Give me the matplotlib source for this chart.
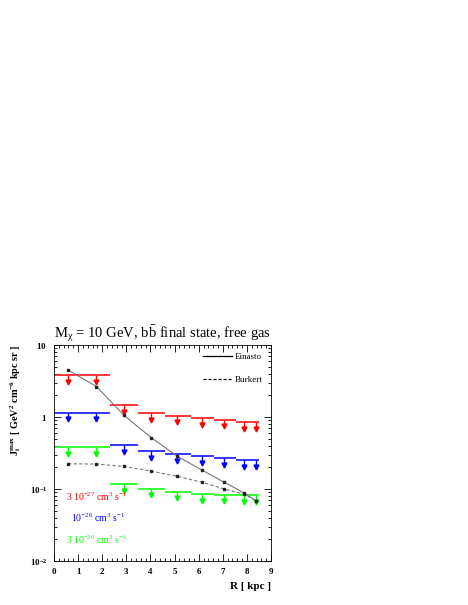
import numpy as np
import matplotlib
matplotlib.use('Agg')
import matplotlib.pyplot as plt
from matplotlib.lines import Line2D
from matplotlib.ticker import MultipleLocator, LogLocator, NullFormatter

plt.rcParams['font.family'] = ['Liberation Serif', 'DejaVu Serif']
plt.rcParams['mathtext.fontset'] = 'custom'
plt.rcParams['mathtext.rm'] = 'Liberation Serif'
plt.rcParams['mathtext.it'] = 'Liberation Serif:italic'
plt.rcParams['mathtext.bf'] = 'Liberation Serif:bold'

# ---- data ----
r_pts = [0.58, 1.76, 2.91, 4.04, 5.12, 6.15, 7.06, 7.89, 8.36]
einasto = [4.5, 2.65, 1.05, 0.514, 0.284, 0.182, 0.124, 0.088, 0.069]
burkert = [0.224, 0.222, 0.206, 0.177, 0.150, 0.124, 0.100, 0.085, 0.069]

bin_edges = [0.0, 2.33, 3.49, 4.62, 5.68, 6.65, 7.53, 8.5]
pt_bin = [0, 0, 1, 2, 3, 4, 5, 6, 6]   # bin of each arrow

lim_red = [3.80, 1.46, 1.13, 1.04, 0.96, 0.914, 0.847]     # 3e-27
lim_blue = [1.14, 0.407, 0.336, 0.302, 0.284, 0.269, 0.252]  # 1e-26
lim_green = [0.382, 0.116, 0.101, 0.091, 0.085, 0.083, 0.082]  # 3e-26

labels = [r'3 10$^{-27}$ cm$^{3}$ s$^{-1}$', r'10$^{-26}$ cm$^{3}$ s$^{-1}$',
          r'3 10$^{-26}$ cm$^{3}$ s$^{-1}$']
label_pos = [(0.5, 0.079), (0.7, 0.040), (0.5, 0.020)]
colors = ['#ff0000', '#0000ff', '#00ff00']

fig = plt.figure(figsize=(4.68, 6.05), dpi=100)
ax = fig.add_axes([0.1154, 0.0727, 0.4637, 0.3571])

# upper limit steps + arrows
for lim, col in zip([lim_red, lim_blue, lim_green], colors):
    ax.hlines(lim, bin_edges[:-1], bin_edges[1:], colors=col, lw=1.1)
    top = np.array([lim[b] for b in pt_bin])
    tip = top * 10 ** (-0.09)
    ax.vlines(r_pts, tip, top, colors=col, lw=1.0)
    ax.plot(r_pts, tip, 'v', color=col, ms=3.5, mec=col)

# profiles
ax.plot(r_pts, einasto, '-', color='#777777', lw=0.8,
        marker='s', ms=1.8, mfc='#222222', mec='#222222')
ax.plot(r_pts, burkert, '--', color='#777777', lw=0.8, dashes=(3, 2),
        marker='s', ms=1.8, mfc='#222222', mec='#222222')

for txt, (xx, yy), col in zip(labels, label_pos, colors):
    ax.text(xx, yy, txt, color=col, fontsize=7, va='center', ha='left')

handles = [Line2D([], [], color='black', lw=0.9, ls='-'),
           Line2D([], [], color='black', lw=0.9, ls='--', dashes=(2.5, 1.5))]
ax.legend(handles, ['Einasto', 'Burkert'], loc='upper right', frameon=False,
          fontsize=6.5, handlelength=3.2, handletextpad=0.3, labelspacing=1.6,
          borderaxespad=0.5)

ax.set_yscale('log')
ax.set_xlim(0, 9)
ax.set_ylim(0.01, 10)

ax.xaxis.set_major_locator(MultipleLocator(1))
ax.xaxis.set_minor_locator(MultipleLocator(0.2))
ax.set_yticks([0.01, 0.1, 1, 10])
ax.set_yticklabels([r'$\mathbf{10^{-2}}$', r'$\mathbf{10^{-1}}$', r'$\mathbf{1}$', r'$\mathbf{10}$'])
ax.yaxis.set_minor_locator(LogLocator(base=10, subs=np.arange(2, 10)))
ax.yaxis.set_minor_formatter(NullFormatter())

ax.tick_params(which='both', direction='in', top=True, right=True, labelsize=6.5)
ax.tick_params(which='major', length=5, width=0.6, pad=5)
ax.tick_params(which='minor', length=2.5, width=0.6)
for lab in ax.get_xticklabels():
    lab.set_fontweight('bold')
for sp in ax.spines.values():
    sp.set_linewidth(0.6)

ax.set_xlabel('R [ kpc ]', fontsize=8, fontweight='bold', loc='right', labelpad=4)
ax.set_ylabel(r'J$_{\mathbf{i}}^{\mathbf{max}}$ [ GeV$^{\mathbf{2}}$ cm$^{\mathbf{-6}}$ kpc sr ]',
              fontsize=7.4, fontweight='bold', loc='top', labelpad=5)
ax.set_title(r'M$_{\mathrm{χ}}$ = 10 GeV, b$\bar{\mathrm{b}}$ final state, free gas',
             fontsize=10.5, pad=5)

fig.savefig('out.png', dpi=100)
